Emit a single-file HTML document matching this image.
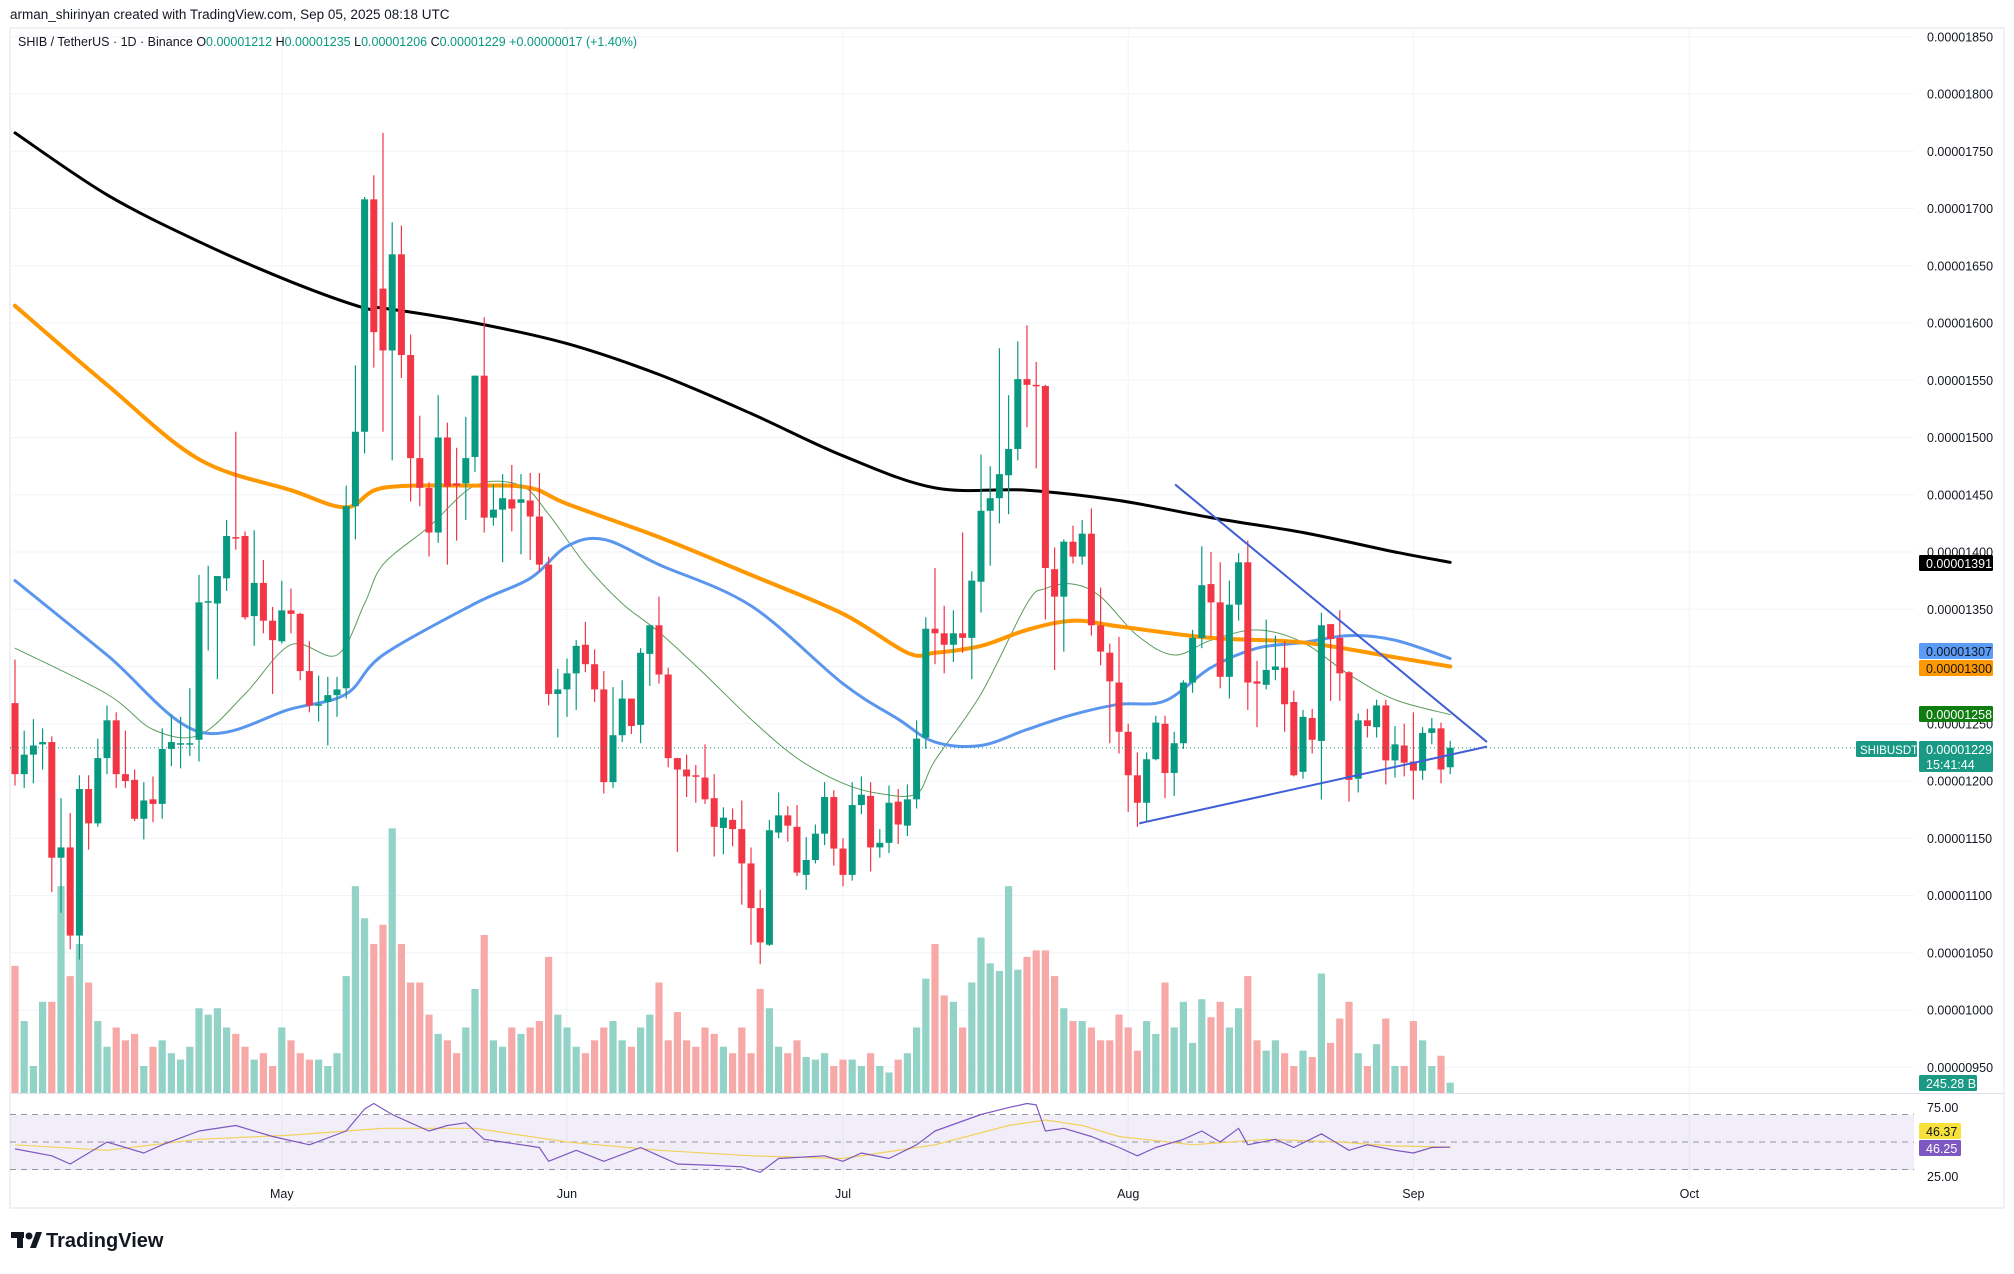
<!DOCTYPE html>
<html><head><meta charset="utf-8"><title>SHIBUSDT chart</title>
<style>
html,body{margin:0;padding:0;background:#fff;}
body{width:2014px;height:1269px;overflow:hidden;font-family:"Liberation Sans",sans-serif;}
svg text{font-family:"Liberation Sans",sans-serif;}
</style></head>
<body>
<svg id="chart" width="2014" height="1269" viewBox="0 0 2014 1269" xmlns="http://www.w3.org/2000/svg">
  <rect x="0" y="0" width="2014" height="1269" fill="#ffffff"/>
  <text x="10" y="19" font-size="13.5" fill="#131722">arman_shirinyan created with TradingView.com, Sep 05, 2025 08:18 UTC</text>
  <rect x="10" y="28" width="1994" height="1180" fill="none" stroke="#e0e3eb" stroke-width="1"/>
  <g id="grid"></g>
  <rect x="10" y="1115" width="1904" height="55" fill="#7e57c2" fill-opacity="0.1"/>
  <g id="rsiLines"></g>
  <line x1="10" y1="1093.5" x2="2004" y2="1093.5" stroke="#e0e3eb"/>
  <g id="volume"></g>
  <g id="mas"></g>
  <g id="candles"></g>
  <g id="trend"></g>
  <g id="rsi"></g>
  <g id="axis"></g>
  <g id="timeaxis"></g>
  <text x="18" y="46" font-size="12.5" fill="#131722">SHIB / TetherUS · 1D · Binance  O<tspan fill="#089981">0.00001212</tspan>  H<tspan fill="#089981">0.00001235</tspan>  L<tspan fill="#089981">0.00001206</tspan>  C<tspan fill="#089981">0.00001229</tspan>  <tspan fill="#089981">+0.00000017 (+1.40%)</tspan></text>
  <g>
    <rect x="11" y="1232" width="13" height="6" fill="#131722"/>
    <rect x="17" y="1232" width="6" height="16" fill="#131722"/>
    <circle cx="29" cy="1236" r="3.5" fill="#131722"/>
    <polygon points="30,1248 36,1232 42,1232 36,1248" fill="#131722"/>
    <text x="46" y="1247" font-size="20" font-weight="bold" fill="#131722">TradingView</text>
  </g>
</svg>
<script>
const openP=[1268,1206,1223,1232,1234,1133,1142,1065,1193,1163,1220,1253,1206,1201,1167,1184,1180,1228,1232,1232,1236,1356,1355,1377,1413,1414,1344,1373,1340,1322,1349,1346,1296,1266,1269,1275,1281,1440,1505,1708,1630,1576,1660,1572,1482,1456,1417,1500,1460,1460,1483,1554,1430,1437,1446,1443,1445,1431,1389,1276,1280,1294,1319,1302,1280,1199,1240,1272,1249,1311,1336,1293,1220,1210,1205,1203,1185,1159,1166,1158,1128,1089,1057,1155,1170,1160,1118,1131,1154,1186,1141,1118,1179,1187,1142,1146,1182,1161,1184,1238,1333,1329,1319,1329,1325,1374,1436,1447,1467,1490,1551,1546,1545,1385,1361,1409,1396,1416,1336,1312,1286,1243,1205,1181,1219,1250,1207,1233,1286,1325,1372,1356,1291,1354,1391,1287,1284,1297,1299,1269,1208,1255,1235,1337,1325,1295,1202,1253,1247,1266,1218,1231,1217,1209,1242,1246,1212];
const closeP=[1206,1223,1231,1234,1133,1142,1065,1193,1163,1220,1253,1206,1200,1167,1183,1180,1228,1234,1233,1233,1356,1357,1379,1414,1412,1343,1373,1340,1323,1349,1346,1296,1266,1267,1275,1280,1440,1505,1708,1592,1576,1660,1572,1482,1456,1417,1500,1457,1458,1482,1554,1430,1437,1447,1438,1446,1431,1389,1276,1280,1294,1318,1302,1280,1199,1240,1272,1248,1312,1336,1293,1220,1210,1204,1204,1184,1160,1168,1158,1128,1089,1059,1157,1170,1161,1120,1131,1154,1186,1141,1118,1179,1188,1142,1146,1181,1162,1184,1237,1333,1329,1319,1329,1325,1375,1436,1447,1468,1490,1551,1546,1545,1386,1361,1409,1396,1416,1336,1313,1287,1243,1205,1181,1219,1251,1207,1233,1286,1325,1371,1356,1291,1354,1391,1286,1285,1297,1300,1267,1205,1256,1236,1336,1324,1294,1201,1253,1248,1266,1218,1232,1216,1209,1242,1246,1210,1229];
const highP=[1306,1244,1254,1246,1239,1185,1172,1205,1205,1237,1266,1260,1244,1210,1199,1204,1246,1258,1256,1281,1380,1388,1379,1428,1505,1418,1419,1393,1352,1375,1368,1347,1322,1292,1291,1291,1458,1563,1710,1729,1766,1688,1685,1590,1519,1461,1537,1513,1491,1518,1554,1605,1459,1468,1476,1468,1469,1469,1396,1298,1307,1323,1339,1315,1296,1282,1288,1272,1316,1336,1361,1299,1220,1223,1214,1232,1206,1177,1176,1183,1142,1105,1166,1190,1178,1179,1151,1162,1199,1192,1150,1199,1204,1199,1158,1196,1193,1197,1253,1343,1386,1353,1349,1417,1383,1485,1475,1578,1537,1584,1598,1566,1546,1404,1411,1423,1428,1438,1369,1320,1326,1250,1225,1225,1257,1257,1243,1288,1332,1405,1400,1391,1375,1399,1410,1305,1341,1327,1322,1279,1262,1263,1347,1337,1349,1296,1259,1263,1271,1271,1248,1250,1260,1247,1255,1251,1235];
const lowP=[1196,1194,1198,1210,1103,1085,1053,1044,1140,1160,1206,1194,1194,1165,1149,1164,1167,1213,1211,1222,1217,1314,1289,1366,1402,1341,1318,1329,1276,1320,1329,1288,1260,1252,1231,1256,1272,1411,1486,1561,1505,1480,1552,1444,1440,1396,1408,1389,1410,1428,1470,1417,1423,1391,1418,1398,1393,1383,1266,1238,1256,1262,1295,1269,1189,1194,1234,1241,1233,1283,1285,1212,1138,1186,1181,1180,1134,1136,1143,1092,1057,1040,1056,1150,1147,1117,1105,1128,1144,1126,1108,1113,1171,1121,1133,1137,1145,1152,1176,1228,1302,1294,1304,1312,1289,1347,1388,1425,1433,1480,1509,1473,1341,1297,1313,1390,1389,1327,1301,1233,1224,1173,1160,1164,1218,1185,1187,1228,1277,1316,1326,1281,1272,1340,1262,1247,1280,1288,1243,1204,1202,1224,1184,1270,1270,1182,1190,1238,1238,1197,1203,1204,1184,1201,1232,1198,1206];
const volumeB=[2970,1680,630,2130,2130,4830,2730,3480,2580,1680,1080,1530,1230,1380,630,1080,1230,930,780,1080,1980,1830,1980,1530,1380,1080,780,930,630,1530,1230,930,780,780,630,930,2730,4830,4080,3480,3930,6180,3480,2580,2580,1830,1380,1230,930,1530,2430,3690,1230,1080,1530,1380,1530,1680,3180,1830,1530,1080,930,1230,1530,1680,1230,1080,1530,1830,2580,1230,1890,1230,1080,1530,1380,1080,930,1530,930,2430,1980,1080,930,1230,840,780,930,630,780,780,630,930,630,480,780,930,1530,2670,3480,2280,2130,1530,2580,3630,3030,2850,4830,2880,3180,3330,3330,2730,1980,1680,1680,1530,1230,1230,1830,1530,990,1680,1380,2580,1530,2130,1170,2190,1770,2130,1530,1980,2730,1230,990,1230,930,630,990,840,2790,1170,1740,2130,930,630,1140,1740,630,630,1680,1230,630,870,240];
const sma200Idx=[0,10,20,30,38,40,50,60,70,80,90,100,110,120,130,140,150,156];
const sma200Val=[1766,1712,1671,1636,1613,1613,1600,1582,1555,1521,1484,1456,1454,1445,1430,1417,1400,1391];
const sma100Idx=[0,10,20,30,36,40,50,56,60,70,80,90,97,100,105,110,115,120,130,140,150,156];
const sma100Val=[1615,1546,1481,1454,1439,1456,1458,1456,1442,1413,1380,1346,1312,1312,1318,1332,1340,1335,1325,1321,1308,1300];
const sma50Idx=[0,10,20,30,36,40,50,56,60,64,70,80,90,96,100,105,110,115,120,125,130,135,140,145,150,156];
const sma50Val=[1375,1310,1243,1263,1276,1310,1355,1377,1405,1411,1389,1353,1285,1254,1234,1231,1245,1258,1267,1270,1299,1316,1321,1327,1323,1307];
const sma20Idx=[0,10,15,20,25,30,35,38,40,45,50,55,58,62,66,70,75,80,85,90,94,98,100,105,110,112,115,118,122,126,130,135,140,145,150,156];
const sma20Val=[1316,1276,1245,1240,1276,1319,1310,1355,1389,1422,1458,1458,1433,1389,1355,1330,1293,1254,1220,1198,1189,1189,1218,1276,1355,1368,1372,1361,1327,1310,1323,1332,1321,1293,1271,1258];
const rsiIdx=[0,4,6,8,10,12,14,16,20,24,28,32,36,38,39,41,43,45,47,49,51,53,57,58,61,64,68,70,72,76,79,81,83,88,90,92,95,98,100,105,108,110,111,112,114,117,120,122,124,127,129,131,133,134,137,139,142,145,147,150,152,154,156];
const rsiVal=[45,40,34,42,50,46,42,48,58,62,54,48,58,74,78,70,64,58,62,64,52,50,46,36,44,36,46,40,34,33,32,28,38,40,36,42,38,48,58,70,75,78,77,58,60,54,46,40,46,52,58,50,60,48,52,46,56,44,48,44,42,46,46.25];
const rsiMaIdx=[0,10,20,30,40,50,60,70,80,90,100,108,112,116,120,128,136,144,150,156];
const rsiMaVal=[48,44,52,55,60,60,50,44,40,38,48,62,66,62,54,48,52,50,47,46.37];
const trendUpper=[[126.1,1459],[160,1234]];
const trendLower=[[122.2,1163],[160,1230]];
const priceTicks=[950,1000,1050,1100,1150,1200,1250,1300,1350,1400,1450,1500,1550,1600,1650,1700,1750,1800,1850];
const monthIdx=[29,60,90,121,152,182];
const monthLbl=["May","Jun","Jul","Aug","Sep","Oct"];

const NS="http://www.w3.org/2000/svg";
const X=i=>15+i*9.2;
const Y=p=>781-(p-1200)*1.145;
const RY=v=>1142-(v-50)*1.375;
const VH=v=>v*0.04282;
function mk(tag,attrs,parent){const e=document.createElementNS(NS,tag);for(const k in attrs)e.setAttribute(k,attrs[k]);parent.appendChild(e);return e;}
const fmt=p=>"0.0000"+String(Math.round(p)).padStart(4,"0");
function smooth(pts){let d='M'+pts[0][0].toFixed(1)+','+pts[0][1].toFixed(1);
for(let k=0;k<pts.length-1;k++){const p0=pts[Math.max(0,k-1)],p1=pts[k],p2=pts[k+1],p3=pts[Math.min(pts.length-1,k+2)];
const c1=[p1[0]+(p2[0]-p0[0])/6,p1[1]+(p2[1]-p0[1])/6],c2=[p2[0]-(p3[0]-p1[0])/6,p2[1]-(p3[1]-p1[1])/6];
d+=' C'+c1[0].toFixed(1)+','+c1[1].toFixed(1)+' '+c2[0].toFixed(1)+','+c2[1].toFixed(1)+' '+p2[0].toFixed(1)+','+p2[1].toFixed(1);}
return d;}

const grid=document.getElementById('grid');
priceTicks.forEach(p=>{const l=mk('line',{x1:10,x2:1914,y1:Y(p),y2:Y(p),stroke:'#f0f3fa','stroke-width':1},grid);

});
monthIdx.forEach(i=>{const l=mk('line',{x1:X(i),x2:X(i),y1:28,y2:1180,stroke:'#f0f3fa','stroke-width':1},grid);

});

const rl=document.getElementById('rsiLines');
[70,50,30].forEach(v=>{const l=mk('line',{x1:10,x2:1914,y1:RY(v),y2:RY(v),stroke:'#9598a1','stroke-width':1,'stroke-dasharray':'6,5'},rl);

});

const vg=document.getElementById('volume');
volumeB.forEach((v,i)=>{const up=closeP[i]>=openP[i];const h=VH(v);
const r=mk('rect',{x:X(i)-3.6,y:1093-h,width:7.2,height:h,fill:up?'#92d2c7':'#f7a9a7'},vg);

});

const mg=document.getElementById('mas');
function line(idx,val,color,w,name){const pts=idx.map((i,k)=>[X(i),Y(val[k])]);
const pl=mk('path',{d:smooth(pts),fill:'none',stroke:color,'stroke-width':w,'stroke-linejoin':'round','stroke-linecap':'round'},mg);

}
line(sma20Idx,sma20Val,'#5c9c5c',1,'sma-20-line');
line(sma50Idx,sma50Val,'#5b96ee',3,'sma-50-line');
line(sma100Idx,sma100Val,'#ff9800',4,'sma-100-line');
line(sma200Idx,sma200Val,'#000000',3,'sma-200-line');

const cg=document.getElementById('candles');
openP.forEach((o,i)=>{const c=closeP[i];const up=c>=o;const col=up?'#089981':'#f23645';const x=X(i);
const w=mk('line',{x1:x,x2:x,y1:Y(highP[i]),y2:Y(lowP[i]),stroke:col,'stroke-width':1.2},cg);


const top=Y(Math.max(o,c)),bot=Y(Math.min(o,c));
const b=mk('rect',{x:x-3.5,y:top,width:7,height:Math.max(1.5,bot-top),fill:col},cg);

});

const cp=mk('line',{x1:10,x2:1914,y1:Y(closeP[closeP.length-1]),y2:Y(closeP[closeP.length-1]),stroke:'#089981','stroke-width':1,'stroke-dasharray':'1,3'},cg);



const tg=document.getElementById('trend');
[trendUpper,trendLower].forEach((t,k)=>{const l=mk('line',{x1:X(t[0][0]),y1:Y(t[0][1]),x2:X(t[1][0]),y2:Y(t[1][1]),stroke:'#3f5fd6','stroke-width':2},tg);

});

const rg=document.getElementById('rsi');
function rline(idx,val,color,name){const pts=idx.map((i,k)=>X(i).toFixed(1)+','+RY(val[k]).toFixed(1)).join(' ');
const pl=mk('polyline',{points:pts,fill:'none',stroke:color,'stroke-width':1.2,'stroke-linejoin':'round'},rg);

}
rline(rsiMaIdx,rsiMaVal,'#f2d15e','rsi-ma-line');
rline(rsiIdx,rsiVal,'#7e57c2','rsi-line');

const ag=document.getElementById('axis');
priceTicks.forEach(p=>{const t=mk('text',{x:1927,y:Y(p)+4.5,'font-size':12.5,fill:'#131722'},ag);t.textContent=fmt(p);

});
function badge(x,y,w,h,fill,txt,tc,name,lines,fs){const g=mk('g',{},ag);


mk('rect',{x:x,y:y,width:w,height:h,fill:fill,rx:1.5},g);
lines=lines||[txt];lines.forEach((s,k)=>{const t=mk('text',{x:x+(fs?4:7),y:y+13+k*15,'font-size':fs||12.5,fill:tc},g);t.textContent=s;});}
badge(1919,555,74,16,'#000000','0.00001391','#ffffff','sma-200-badge');
badge(1919,643,74,16,'#5b9cf6','0.00001307','#131722','sma-50-badge');
badge(1919,660,74,16,'#ff9800','0.00001300','#131722','sma-100-badge');
badge(1919,706,74,16,'#0f7d0f','0.00001258','#ffffff','sma-20-badge');
badge(1919,741,74,31,'#1a9a85','','#ffffff','last-price-badge',['0.00001229','15:41:44']);
badge(1856,741,61,16,'#1a9a85','SHIBUSDT','#ffffff','symbol-badge',null,11.5);
badge(1919,1075,58,16,'#1a9a85','245.28 B','#ffffff','volume-badge');
[[75,1112],[25,1181]].forEach(a=>{const t=mk('text',{x:1927,y:a[1],'font-size':12.5,fill:'#131722'},ag);t.textContent=a[0].toFixed(2);

});
badge(1919,1123,42,16,'#f7e13a','46.37','#131722','rsi-ma-badge');
badge(1919,1140,42,16,'#7e57c2','46.25','#ffffff','rsi-badge');

const tx=document.getElementById('timeaxis');
monthIdx.forEach((i,k)=>{const t=mk('text',{x:X(i),y:1198,'font-size':12.5,fill:'#131722','text-anchor':'middle'},tx);t.textContent=monthLbl[k];

});
</script>
</body></html>
